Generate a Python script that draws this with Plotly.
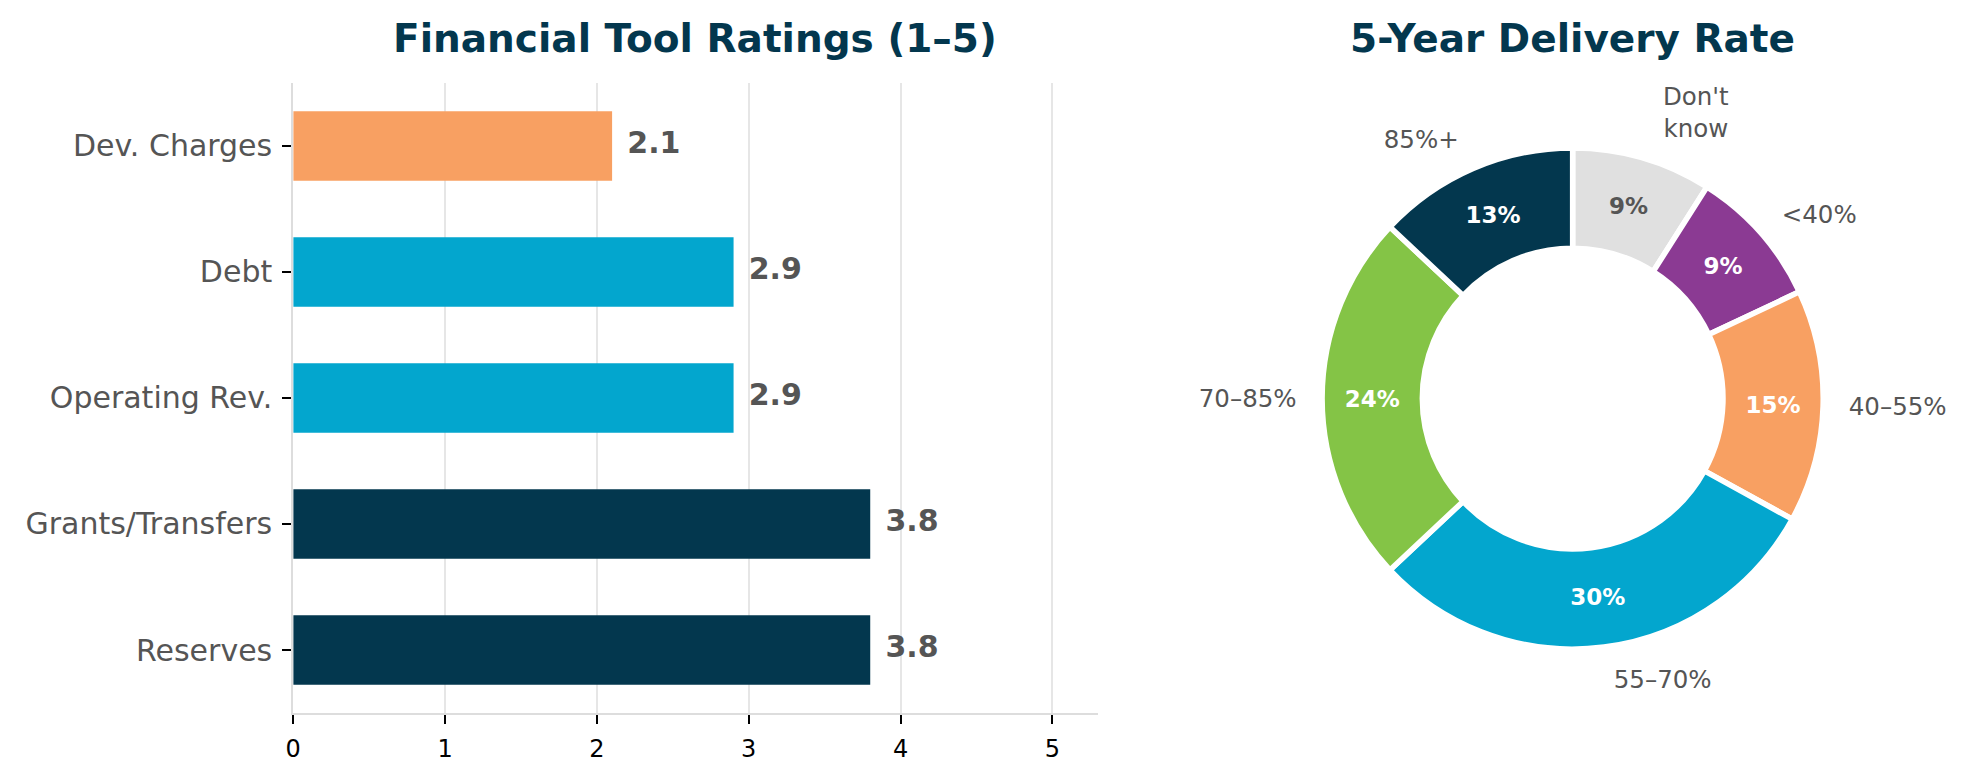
import plotly.graph_objects as go

# left panel: ratings of financial tools (bottom to top)
tools = ["Reserves", "Grants/Transfers", "Operating Rev.", "Debt", "Dev. Charges"]
ratings = [3.8, 3.8, 2.9, 2.9, 2.1]
bar_colors = ["#03374E", "#03374E", "#03A6CE", "#03A6CE", "#F8A062"]

# right panel: 5-year delivery rate shares (counter-clockwise from 12 o'clock)
rate_labels = ["85%+", "70–85%", "55–70%", "40–55%", "<40%", "Don't know"]
rate_shares = [13, 24, 30, 15, 9, 9]
rate_colors = ["#03374E", "#84C446", "#03A6CE", "#F8A062", "#8B3A93", "#E0E0E0"]
pct_colors = ["white", "white", "white", "white", "white", "#555555"]

NAVY = "#03374E"
GREY = "#555555"
FONT = "DejaVu Sans"

fig = go.Figure()

fig.add_trace(go.Bar(
    x=ratings, y=tools, orientation="h", width=0.55,
    marker=dict(color=bar_colors, line=dict(width=0)),
    hoverinfo="skip", showlegend=False,
))

# value labels just past the end of each bar
fig.add_trace(go.Scatter(
    x=[r + 0.1 for r in ratings], y=tools, mode="text",
    text=["<b>%.1f</b>" % r for r in ratings],
    textposition="middle right",
    textfont=dict(family=FONT, size=30, color=GREY),
    cliponaxis=False, hoverinfo="skip", showlegend=False,
))

# plotly lays counter-clockwise slices out backwards, so go clockwise on reversed lists
rev_labels = rate_labels[::-1]
rev_shares = rate_shares[::-1]
rev_colors = rate_colors[::-1]
rev_pct_colors = pct_colors[::-1]

fig.add_trace(go.Pie(
    labels=rev_labels, values=rev_shares, hole=0.6,
    sort=False, direction="clockwise", rotation=0,
    marker=dict(colors=rev_colors, line=dict(color="white", width=5.5)),
    texttemplate="<b>%{percent:.0%}</b>", textposition="inside",
    insidetextorientation="horizontal",
    textfont=dict(family=FONT, size=23, color=rev_pct_colors),
    domain=dict(x=[0.6708, 0.9266], y=[0.1667, 0.8115]),
    showlegend=False, hoverinfo="skip",
))

# a slightly larger transparent ring carries the category names outside
fig.add_trace(go.Pie(
    labels=rev_labels, values=rev_shares, hole=0.6,
    sort=False, direction="clockwise", rotation=0,
    text=[l.replace("Don't know", "Don't<br>know") for l in rev_labels],
    textinfo="text", textposition="outside",
    marker=dict(colors=["rgba(0,0,0,0)"] * len(rev_labels), line=dict(width=0)),
    textfont=dict(family=FONT, size=24.5, color=GREY),
    domain=dict(x=[0.6615, 0.9360], y=[0.1429, 0.8353]),
    showlegend=False, hoverinfo="skip",
))

fig.update_xaxes(
    domain=[0.1456, 0.5564], range=[0, 5.3], dtick=1, tick0=0,
    showgrid=True, gridcolor="#E6E6E6", gridwidth=1.5, zeroline=False,
    showline=True, linecolor="#DDDDDD", linewidth=2,
    ticks="outside", ticklen=9, tickwidth=1.5, tickcolor="black",
    ticklabelstandoff=4,
    tickfont=dict(family=FONT, size=24, color="black"),
)
fig.update_yaxes(
    domain=[0.0859, 0.8936], range=[-0.5, 4.5],
    showgrid=False, zeroline=False,
    showline=True, linecolor="#DDDDDD", linewidth=2,
    ticks="outside", ticklen=9, tickwidth=1.5, tickcolor="black",
    ticklabelstandoff=4,
    tickfont=dict(family=FONT, size=30, color=GREY),
)

title_font = dict(family=FONT, size=39, color=NAVY)
fig.add_annotation(text="<b>Financial Tool Ratings (1–5)</b>", x=0.3506, y=0.951,
                   xref="paper", yref="paper", showarrow=False, font=title_font,
                   xanchor="center", yanchor="middle")
fig.add_annotation(text="<b>5-Year Delivery Rate</b>", x=0.7987, y=0.951,
                   xref="paper", yref="paper", showarrow=False, font=title_font,
                   xanchor="center", yanchor="middle")

fig.update_layout(
    width=1967, height=780,
    margin=dict(l=0, r=0, t=0, b=0),
    paper_bgcolor="white", plot_bgcolor="white",
    font=dict(family=FONT),
)

# drop the browser's default 8px body margin so the figure sits at the page corner
fig.write_html("out.html", config={"displayModeBar": False},
               post_script="document.body.style.margin = '0px';")
